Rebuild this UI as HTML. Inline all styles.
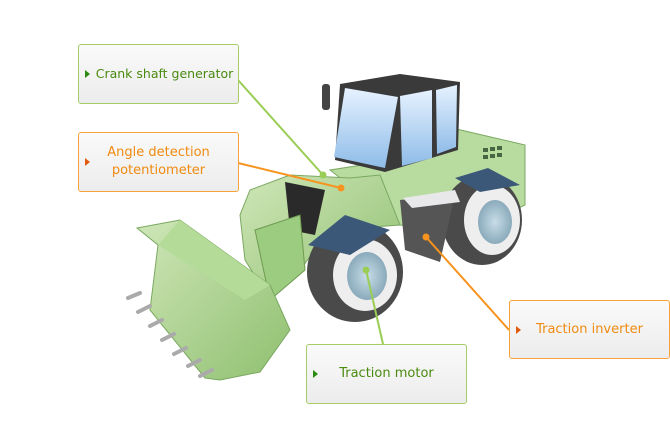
<!DOCTYPE html>
<html><head><style>
body{margin:0;width:670px;height:430px;background:#fff;overflow:hidden;position:relative;font-family:"DejaVu Sans","Liberation Sans",sans-serif}
.b{position:absolute;box-sizing:border-box;border-radius:3px;background:linear-gradient(#fafafa,#ececec);display:flex;align-items:center;justify-content:center;text-align:center;font-size:13px;line-height:18px}
.g{border:1px solid #a6cc66;color:#4a8a10}
.o{border:1px solid #f7a23a;color:#f08a10}
.t{position:absolute;left:6px;top:50%;margin-top:-4px;width:0;height:0;border-top:4px solid transparent;border-bottom:4px solid transparent;border-left:5px solid #2a8a10}
.o .t{border-left-color:#e05a10}
svg{position:absolute;left:0;top:0}
</style></head><body>
<svg width="670" height="430" viewBox="0 0 670 430">
<defs>
<linearGradient id="gr" x1="0" y1="0" x2="1" y2="1"><stop offset="0" stop-color="#cfe6b8"/><stop offset="1" stop-color="#8fc070"/></linearGradient>
<linearGradient id="gl" x1="0" y1="0" x2="0" y2="1"><stop offset="0" stop-color="#e6f2ff"/><stop offset="1" stop-color="#8fbce8"/></linearGradient>
<radialGradient id="hub"><stop offset="0" stop-color="#c8dde8"/><stop offset="1" stop-color="#8aaabb"/></radialGradient>
</defs>
<polygon points="452,128 525,145 525,205 470,232 400,225 330,170 395,160" fill="#b8dca0" stroke="#7aa860"/>
<g fill="#2a4a2a" opacity=".8"><rect x="483" y="148" width="5" height="4"/><rect x="490" y="147" width="5" height="4"/><rect x="497" y="146" width="5" height="4"/><rect x="483" y="155" width="5" height="4"/><rect x="490" y="154" width="5" height="4"/><rect x="497" y="153" width="5" height="4"/></g>
<ellipse cx="482" cy="220" rx="40" ry="45" fill="#4a4a4a"/>
<ellipse cx="492" cy="220" rx="28" ry="35" fill="#eee"/>
<ellipse cx="495" cy="222" rx="17" ry="22" fill="url(#hub)"/>
<polygon points="455,178 488,168 520,185 480,192" fill="#3c5878"/>
<polygon points="340,84 400,74 460,82 458,150 385,172 335,160" fill="#3a3a3a"/>
<polygon points="345,88 398,97 385,168 334,157" fill="url(#gl)"/>
<polygon points="400,96 432,90 432,158 402,166" fill="url(#gl)"/>
<polygon points="436,90 457,85 456,147 437,154" fill="url(#gl)"/>
<rect x="322" y="84" width="8" height="26" rx="3" fill="#444"/>
<polygon points="250,190 290,175 350,178 380,175 400,225 330,230 300,270 270,300 245,260 240,215" fill="url(#gr)" stroke="#7aa860"/>
<polygon points="285,182 325,190 315,235 290,230" fill="#2a2a2a"/>
<polygon points="255,230 300,215 305,270 270,300" fill="#9ccc80" stroke="#6e9a50"/>
<polygon points="400,200 455,195 440,262 405,250" fill="#555"/>
<polygon points="403,198 455,190 460,202 412,208" fill="#e8e8ea"/>
<ellipse cx="355" cy="272" rx="48" ry="50" fill="#4a4a4a"/>
<ellipse cx="365" cy="275" rx="32" ry="36" fill="#eee"/>
<ellipse cx="367" cy="276" rx="20" ry="24" fill="url(#hub)"/>
<polygon points="308,245 345,215 390,230 350,255" fill="#3c5878"/>
<polygon points="137,228 180,220 270,285 290,330 260,372 220,380 205,378 150,310 158,245" fill="url(#gr)" stroke="#7aa860"/>
<polygon points="180,220 270,285 245,300 158,245" fill="#b4dc98"/>
<g stroke="#aaa" stroke-width="4" stroke-linecap="round">
<line x1="128" y1="298" x2="140" y2="293"/><line x1="138" y1="312" x2="150" y2="306"/><line x1="150" y1="326" x2="162" y2="320"/><line x1="162" y1="340" x2="174" y2="334"/><line x1="174" y1="354" x2="186" y2="348"/><line x1="188" y1="366" x2="200" y2="360"/><line x1="200" y1="376" x2="212" y2="370"/>
</g>
<g stroke-width="2" fill="none">
<line x1="238" y1="80" x2="323" y2="175" stroke="#9acd55"/>
<line x1="238" y1="163" x2="341" y2="188" stroke="#f7931e"/>
<line x1="383" y1="344" x2="366" y2="270" stroke="#9acd55"/>
<line x1="509" y1="330" x2="426" y2="237" stroke="#f7931e"/>
</g>
<circle cx="323" cy="175" r="3.5" fill="#9acd55"/>
<circle cx="341" cy="188" r="3.5" fill="#f7931e"/>
<circle cx="366" cy="270" r="3.5" fill="#9acd55"/>
<circle cx="426" cy="237" r="3.5" fill="#f7931e"/>
</svg>
<div class="b g" style="left:78px;top:44px;width:161px;height:60px;padding-left:12px;font-size:12.5px"><span class="t"></span>Crank shaft generator</div>
<div class="b o" style="left:78px;top:132px;width:161px;height:60px"><span class="t"></span>Angle detection<br>potentiometer</div>
<div class="b g" style="left:306px;top:344px;width:161px;height:60px"><span class="t"></span>Traction motor</div>
<div class="b o" style="left:509px;top:300px;width:161px;height:59px"><span class="t"></span>Traction inverter</div>
</body></html>
